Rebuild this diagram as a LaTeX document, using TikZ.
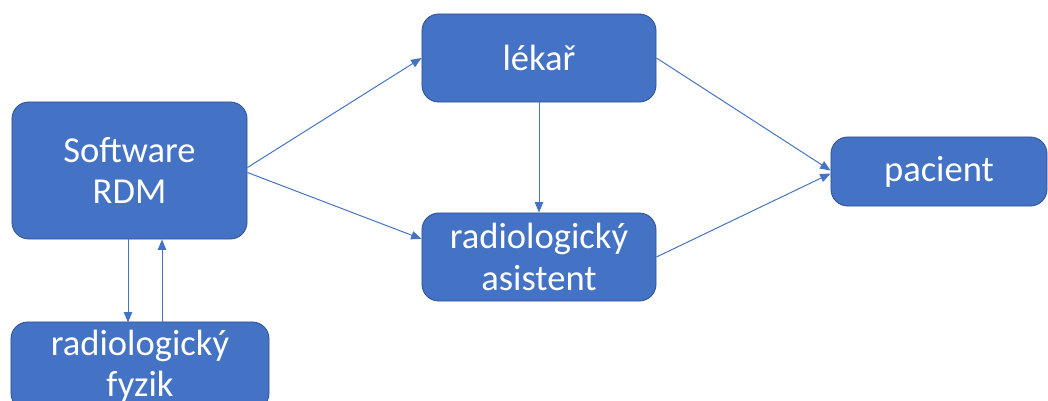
\documentclass[tikz,border=0pt]{standalone}
\usepackage{fontspec}
\setmainfont{Carlito}
\usepackage{tikz}
\usetikzlibrary{arrows.meta, positioning, calc}
\definecolor{boxfill}{RGB}{68, 114, 196}
\definecolor{boxline}{RGB}{47, 82, 143}
\tikzset{
    role/.style={rectangle, rounded corners=0.42cm, draw=boxline, line width=0.6pt, fill=boxfill, text=white, align=center, font=\fontsize{26}{29.5}\selectfont},
    arrow/.style={draw=boxfill, line width=0.7pt, -{Triangle[length=0.26cm, width=0.21cm]}}
}

\begin{document}
\begin{tikzpicture}[x=0.025cm, y=-0.025cm]
        \clip (0,0) rectangle (1048,401);
        \useasboundingbox (0,0) rectangle (1048,401);

        % Boxes
        \node[role, minimum width=5.875cm, minimum height=3.425cm] (sw) at (129.5,170.5) {Software\\RDM};
        \node[role, minimum width=6.45cm, minimum height=2.2cm] (fyzik) at (140,366) {radiologický\\fyzik};
        \node[role, minimum width=5.85cm, minimum height=2.2cm] (lekar) at (539,58) {lékař};
        \node[role, minimum width=5.85cm, minimum height=2.2cm] (asistent) at (539,257) {radiologický\\asistent};
        \node[role, minimum width=5.4cm, minimum height=1.725cm] (pacient) at (939,171.5) {pacient};

        % Arrows
        \draw[arrow] ($(sw.east)+(0,-3)$) -- (lekar.west);
        \draw[arrow] ($(sw.east)+(0,2)$) -- ($(asistent.west)+(0,-18)$);
        \draw[arrow] (lekar.south) -- (asistent.north);
        \draw[arrow] (lekar.east) -- ($(pacient.west)+(0,-1)$);
        \draw[arrow] (asistent.east) -- ($(pacient.west)+(0,2)$);
        \draw[arrow] ($(sw.south)+(-1.5,0)$) -- ($(sw.south)+(-1.5,83)$);
        \draw[arrow] ($(sw.south)+(32.5,83)$) -- ($(sw.south)+(32.5,0)$);
    \end{tikzpicture}
\end{document}
